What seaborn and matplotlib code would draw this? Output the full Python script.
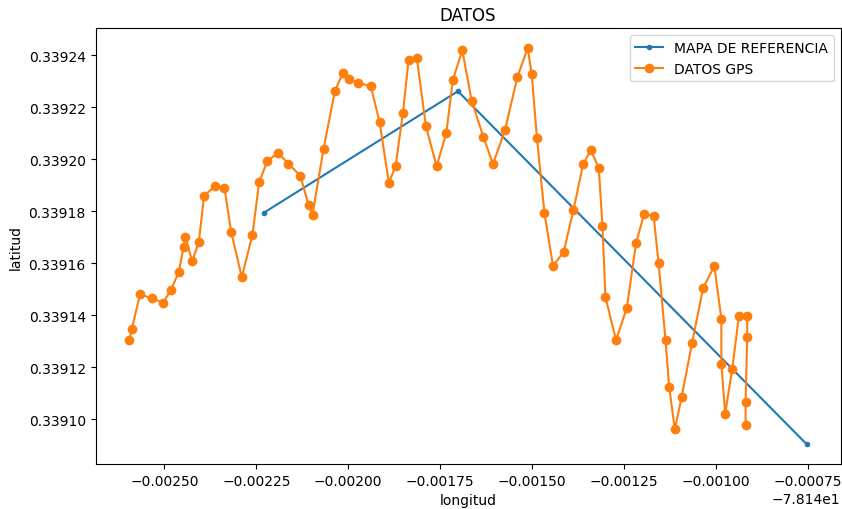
import matplotlib
matplotlib.use("Agg")
import matplotlib.pyplot as plt
import seaborn as sns
import pandas as pd

# Reference route (longitude, latitude)
ref_lon = [-78.1422297, -78.1417015, -78.1407529]
ref_lat = [0.3391794, 0.3392262, 0.3390903]

# GPS track samples (longitude, latitude)
gps_lon = [
    -78.1425953, -78.1425890, -78.1425662, -78.1425335, -78.1425035,
    -78.1424828, -78.1424611, -78.1424475, -78.1424428, -78.1424246,
    -78.1424066, -78.1423919, -78.1423630, -78.1423366, -78.1423184,
    -78.1422895, -78.1422604, -78.1422422, -78.1422204, -78.1421915,
    -78.1421624, -78.1421305, -78.1421079, -78.1420971, -78.1420671,
    -78.1420363, -78.1420146, -78.1419982, -78.1419726, -78.1419383,
    -78.1419146, -78.1418893, -78.1418711, -78.1418512, -78.1418357,
    -78.1418131, -78.1417886, -78.1417595, -78.1417330, -78.1417151,
    -78.1416895, -78.1416642, -78.1416323, -78.1416062, -78.1415735,
    -78.1415397, -78.1415117, -78.1415008, -78.1414864, -78.1414662,
    -78.1414428, -78.1414137, -78.1413873, -78.1413611, -78.1413402,
    -78.1413184, -78.1413083, -78.1413002, -78.1412713, -78.1412422,
    -78.1412168, -78.1411953, -78.1411692, -78.1411558, -78.1411368,
    -78.1411270, -78.1411115, -78.1410932, -78.1410644, -78.1410344,
    -78.1410039, -78.1409849, -78.1409849, -78.1409745, -78.1409555,
    -78.1409372, -78.1409146, -78.1409146, -78.1409190, -78.1409190,
]
gps_lat = [
    0.3391304, 0.3391345, 0.3391480, 0.3391464, 0.3391448,
    0.3391495, 0.3391565, 0.3391664, 0.3391702, 0.3391607,
    0.3391680, 0.3391860, 0.3391896, 0.3391890, 0.3391721,
    0.3391546, 0.3391710, 0.3391912, 0.3391992, 0.3392025,
    0.3391983, 0.3391937, 0.3391825, 0.3391787, 0.3392040,
    0.3392262, 0.3392332, 0.3392310, 0.3392294, 0.3392281,
    0.3392142, 0.3391910, 0.3391973, 0.3392178, 0.3392383,
    0.3392388, 0.3392127, 0.3391973, 0.3392102, 0.3392307,
    0.3392419, 0.3392226, 0.3392086, 0.3391982, 0.3392112,
    0.3392317, 0.3392428, 0.3392328, 0.3392080, 0.3391794,
    0.3391589, 0.3391644, 0.3391804, 0.3391980, 0.3392035,
    0.3391967, 0.3391742, 0.3391469, 0.3391304, 0.3391427,
    0.3391678, 0.3391788, 0.3391783, 0.3391602, 0.3391304,
    0.3391125, 0.3390960, 0.3391083, 0.3391294, 0.3391505,
    0.3391588, 0.3391386, 0.3391212, 0.3391021, 0.3391191,
    0.3391396, 0.3391396, 0.3391314, 0.3391067, 0.3390976,
]

ref_df = pd.DataFrame({"longitud": ref_lon, "latitud": ref_lat})
gps_df = pd.DataFrame({"longitud": gps_lon, "latitud": gps_lat})

blue = "#1f77b4"
orange = "#ff7f0e"

fig = plt.figure(figsize=(8.42, 5.10), dpi=100)
ax = fig.add_axes([95.5 / 842, 1 - 465 / 510, (840.5 - 95.5) / 842, (465 - 29.3) / 510])

sns.lineplot(data=ref_df, x="longitud", y="latitud", ax=ax, sort=False,
             estimator=None, marker=".", markersize=6, markeredgewidth=1,
             markeredgecolor=blue, color=blue, linewidth=1.5,
             label="MAPA DE REFERENCIA")
sns.lineplot(data=gps_df, x="longitud", y="latitud", ax=ax, sort=False,
             estimator=None, marker="o", markersize=6, markeredgewidth=1,
             markeredgecolor=orange, color=orange, linewidth=1.5,
             label="DATOS GPS")

ax.set_title("DATOS", fontsize=12)
ax.set_xlabel("longitud", fontsize=10)
ax.set_ylabel("latitud", fontsize=10)
ax.tick_params(labelsize=10)
ax.legend(loc="upper right", fontsize=10)

fig.savefig("out.png", dpi=100)
